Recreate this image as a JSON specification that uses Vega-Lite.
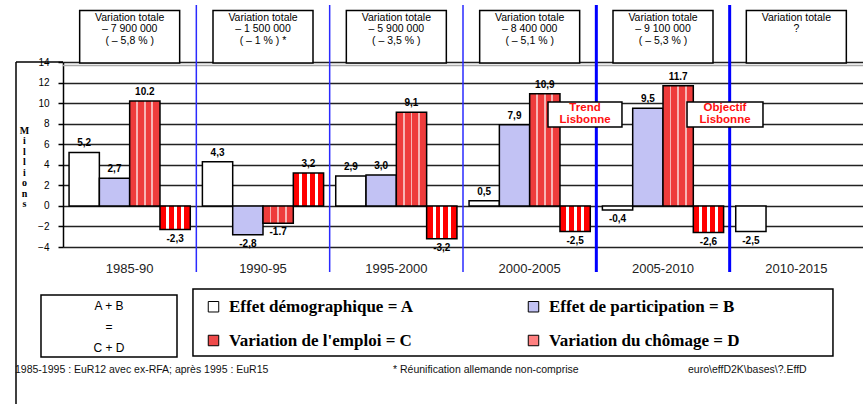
{
  "$schema": "https://vega.github.io/schema/vega-lite/v6.json",
  "width": 800,
  "height": 185,
  "autosize": {"type": "none"},
  "padding": {"left": 63, "top": 62, "right": 0, "bottom": 157},
  "background": "white",
  "config": {"view": {"stroke": null}, "font": "Liberation Sans"},
  "datasets": {
    "bars": [
      {"period": "1985-90", "comp": "A", "value": 5.2, "label": "5,2"},
      {"period": "1985-90", "comp": "B", "value": 2.7, "label": "2,7"},
      {"period": "1985-90", "comp": "C", "value": 10.2, "label": "10.2"},
      {"period": "1985-90", "comp": "D", "value": -2.3, "label": "-2,3"},
      {"period": "1990-95", "comp": "A", "value": 4.3, "label": "4,3"},
      {"period": "1990-95", "comp": "B", "value": -2.8, "label": "-2,8"},
      {"period": "1990-95", "comp": "C", "value": -1.7, "label": "-1.7"},
      {"period": "1990-95", "comp": "D", "value": 3.2, "label": "3,2"},
      {"period": "1995-2000", "comp": "A", "value": 2.9, "label": "2,9"},
      {"period": "1995-2000", "comp": "B", "value": 3.0, "label": "3,0"},
      {"period": "1995-2000", "comp": "C", "value": 9.1, "label": "9,1"},
      {"period": "1995-2000", "comp": "D", "value": -3.2, "label": "-3,2"},
      {"period": "2000-2005", "comp": "A", "value": 0.5, "label": "0,5"},
      {"period": "2000-2005", "comp": "B", "value": 7.9, "label": "7,9"},
      {"period": "2000-2005", "comp": "C", "value": 10.9, "label": "10,9"},
      {"period": "2000-2005", "comp": "D", "value": -2.5, "label": "-2,5"},
      {"period": "2005-2010", "comp": "A", "value": -0.4, "label": "-0,4"},
      {"period": "2005-2010", "comp": "B", "value": 9.5, "label": "9,5"},
      {"period": "2005-2010", "comp": "C", "value": 11.7, "label": "11.7"},
      {"period": "2005-2010", "comp": "D", "value": -2.6, "label": "-2,6"},
      {"period": "2010-2015", "comp": "A", "value": -2.5, "label": "-2,5"}
    ],
    "totals": [
      {"period": "1985-90", "total": "Variation totale\n– 7 900 000\n( – 5,8 % )"},
      {"period": "1990-95", "total": "Variation totale\n– 1 500 000\n( – 1 % ) *"},
      {"period": "1995-2000", "total": "Variation totale\n– 5 900 000\n( – 3,5 % )"},
      {"period": "2000-2005", "total": "Variation totale\n– 8 400 000\n( – 5,1 % )"},
      {"period": "2005-2010", "total": "Variation totale\n– 9 100 000\n( – 5,3 % )"},
      {"period": "2010-2015", "total": "Variation totale\n?"}
    ]
  },
  "layer": [
    {
      "layer": [
        {
          "data": {"name": "bars"},
          "mark": {"type": "bar", "stroke": "black", "strokeWidth": 1.5},
          "encoding": {
            "x": {
              "field": "period", "type": "nominal",
              "scale": {"domain": ["1985-90", "1990-95", "1995-2000", "2000-2005", "2005-2010", "2010-2015"], "paddingInner": 0, "paddingOuter": 0},
              "axis": {"orient": "bottom", "domain": false, "ticks": false, "labelAngle": 0, "labelFont": "Liberation Sans", "labelFontSize": 13, "labelColor": "#222222", "labelPadding": 15},
              "title": null
            },
            "xOffset": {"field": "comp", "type": "nominal", "scale": {"domain": ["A", "B", "C", "D"], "paddingInner": 0, "paddingOuter": 0.2}},
            "y": {
              "field": "value", "type": "quantitative",
              "scale": {"domain": [-4, 14], "nice": false, "zero": false},
              "axis": {
                "values": [-4, -2, 0, 2, 4, 6, 8, 10, 12, 14],
                "tickCount": 10,
                "labelOverlap": false, "labelFlush": false,
                "grid": true, "gridColor": "#222222", "gridWidth": 1.5,
                "domainColor": "black", "domainWidth": 1.5,
                "tickColor": "black", "tickSize": 5, "tickWidth": 1.5,
                "labelFont": "Liberation Sans", "labelFontSize": 10, "labelColor": "black", "labelPadding": 9,
                "titleAngle": 0, "titleX": -39, "titleY": 63, "titleAlign": "center", "titleBaseline": "top",
                "titleFont": "Liberation Serif", "titleFontWeight": "bold", "titleFontSize": 10, "titleLineHeight": 10.5
              },
              "title": ["M", "i", "l", "l", "i", "o", "n", "s"]
            },
            "fill": {
              "condition": [
                {"test": "datum.comp == 'C'", "value": {"gradient": "linear", "stops": [
                    {"offset": 0, "color": "#ee3c3c"}, {"offset": 0.22, "color": "#ee3c3c"},
                    {"offset": 0.22, "color": "#f7b4b4"}, {"offset": 0.28, "color": "#f7b4b4"},
                    {"offset": 0.28, "color": "#ee3c3c"}, {"offset": 0.47, "color": "#ee3c3c"},
                    {"offset": 0.47, "color": "#f7b4b4"}, {"offset": 0.53, "color": "#f7b4b4"},
                    {"offset": 0.53, "color": "#ee3c3c"}, {"offset": 0.72, "color": "#ee3c3c"},
                    {"offset": 0.72, "color": "#f7b4b4"}, {"offset": 0.78, "color": "#f7b4b4"},
                    {"offset": 0.78, "color": "#ee3c3c"}, {"offset": 1, "color": "#ee3c3c"}
                  ]}},
                {"test": "datum.comp == 'D'", "value": {"gradient": "linear", "stops": [
                    {"offset": 0, "color": "#ff0000"}, {"offset": 0.2, "color": "#ff0000"},
                    {"offset": 0.2, "color": "white"}, {"offset": 0.3, "color": "white"},
                    {"offset": 0.3, "color": "#ff0000"}, {"offset": 0.45, "color": "#ff0000"},
                    {"offset": 0.45, "color": "white"}, {"offset": 0.55, "color": "white"},
                    {"offset": 0.55, "color": "#ff0000"}, {"offset": 0.7, "color": "#ff0000"},
                    {"offset": 0.7, "color": "white"}, {"offset": 0.8, "color": "white"},
                    {"offset": 0.8, "color": "#ff0000"}, {"offset": 1, "color": "#ff0000"}
                  ]}}
              ],
              "field": "comp", "type": "nominal",
              "scale": {"domain": ["A", "B", "C", "D"], "range": ["white", "#c2c2f4", "#ee4a4a", "#ff8080"]},
              "legend": {
                "orient": "none", "legendX": 142, "legendY": 236, "columns": 2, "direction": "horizontal", "title": null, "padding": 0,
                "symbolType": "square", "symbolSize": 110, "symbolStrokeColor": "black", "symbolStrokeWidth": 1,
                "labelFont": "Liberation Serif", "labelFontWeight": "bold", "labelFontSize": 17, "labelColor": "black",
                "labelOffset": 7, "columnPadding": 111, "rowPadding": 16, "labelLimit": 400,
                "labelExpr": "datum.label == 'A' ? 'Effet démographique = A' : datum.label == 'B' ? 'Effet de participation = B' : datum.label == 'C' ? \"Variation de l'emploi = C\" : 'Variation du chômage = D'"
              }
            }
          }
        },
        {
          "data": {"values": [{}]},
          "mark": {"type": "rule", "color": "#aaaaaa", "strokeWidth": 1.5},
          "encoding": {"y": {"datum": 13.65, "type": "quantitative"}}
        },
        {
          "data": {"name": "bars"},
          "transform": [{"filter": "datum.value >= 0"}],
          "mark": {"type": "text", "baseline": "bottom", "dy": -4, "fontSize": 10, "fontWeight": "bold", "font": "Liberation Sans", "color": "black"},
          "encoding": {
            "x": {"field": "period", "type": "nominal"},
            "xOffset": {"field": "comp", "type": "nominal"},
            "y": {"field": "value", "type": "quantitative"},
            "text": {"field": "label"}
          }
        },
        {
          "data": {"name": "bars"},
          "transform": [{"filter": "datum.value < 0"}],
          "mark": {"type": "text", "baseline": "top", "dy": 4, "fontSize": 10, "fontWeight": "bold", "font": "Liberation Sans", "color": "black"},
          "encoding": {
            "x": {"field": "period", "type": "nominal"},
            "xOffset": {"field": "comp", "type": "nominal"},
            "y": {"field": "value", "type": "quantitative"},
            "text": {"field": "label"}
          }
        },
        {
          "data": {"name": "totals"},
          "mark": {"type": "bar", "fill": "white", "stroke": "black", "strokeWidth": 1.5, "width": {"band": 0.75}},
          "encoding": {
            "x": {"field": "period", "type": "nominal"},
            "y": {"datum": 19.0},
            "y2": {"datum": 13.9}
          }
        },
        {
          "data": {"name": "totals"},
          "mark": {"type": "text", "lineBreak": "\n", "baseline": "top", "fontSize": 10.5, "lineHeight": 11.5, "font": "Liberation Sans", "color": "black"},
          "encoding": {
            "x": {"field": "period", "type": "nominal"},
            "y": {"datum": 18.8},
            "text": {"field": "total"}
          }
        },
        {
          "data": {"name": "totals"},
          "transform": [{"filter": "indexof(['1990-95', '1995-2000', '2000-2005'], datum.period) >= 0"}],
          "mark": {"type": "rule", "color": "#2a2aff", "strokeWidth": 1.5},
          "encoding": {
            "x": {"field": "period", "type": "nominal", "bandPosition": 0},
            "y": {"datum": 19.55},
            "y2": {"datum": -6.43}
          }
        },
        {
          "data": {"name": "totals"},
          "transform": [{"filter": "indexof(['2005-2010', '2010-2015'], datum.period) >= 0"}],
          "mark": {"type": "rule", "color": "#0000ff", "strokeWidth": 3},
          "encoding": {
            "x": {"field": "period", "type": "nominal", "bandPosition": 0},
            "y": {"datum": 19.55},
            "y2": {"datum": -6.43}
          }
        }
      ]
    },
    {
      "data": {"values": [{}]},
      "layer": [
        {
          "mark": {"type": "rule", "color": "black", "strokeWidth": 1.5},
          "encoding": {
            "x": {"datum": 1.854, "type": "quantitative", "scale": {"domain": [0, 100], "range": [-63, 800]}, "axis": null},
            "y": {"datum": 15.35, "type": "quantitative", "scale": {"domain": [0, 100], "range": [-62, 342]}, "axis": null},
            "y2": {"datum": 100}
          }
        },
        {
          "mark": {"type": "rule", "color": "black", "strokeWidth": 1.5},
          "encoding": {"x": {"datum": 1.854}, "x2": {"datum": 7.3}, "y": {"datum": 15.35}}
        },
        {
          "mark": {"type": "rect", "fill": "white", "stroke": "black", "strokeWidth": 1.5},
          "encoding": {"x": {"datum": 4.75}, "x2": {"datum": 20.51}, "y": {"datum": 73.02}, "y2": {"datum": 88.37}}
        },
        {
          "mark": {"type": "text", "lineBreak": "\n", "baseline": "top", "align": "center", "fontSize": 12, "lineHeight": 21, "font": "Liberation Sans", "color": "black"},
          "encoding": {"x": {"datum": 12.63}, "y": {"datum": 74.45}, "text": {"value": "A + B\n=\nC + D"}}
        },
        {
          "mark": {"type": "rect", "fill": "white", "stroke": "black", "strokeWidth": 1.5},
          "encoding": {"x": {"datum": 22.36}, "x2": {"datum": 96.52}, "y": {"datum": 71.53}, "y2": {"datum": 88.12}}
        },
        {
          "mark": {"type": "text", "baseline": "middle", "align": "left", "fontSize": 10.5, "font": "Liberation Sans", "color": "#111111"},
          "encoding": {"x": {"datum": 1.74}, "y": {"datum": 91.58}, "text": {"value": "1985-1995 : EuR12 avec ex-RFA; après 1995 : EuR15"}}
        },
        {
          "mark": {"type": "text", "baseline": "middle", "align": "left", "fontSize": 10.5, "font": "Liberation Sans", "color": "#111111"},
          "encoding": {"x": {"datum": 45.54}, "y": {"datum": 91.58}, "text": {"value": "* Réunification allemande non-comprise"}}
        },
        {
          "mark": {"type": "text", "baseline": "middle", "align": "left", "fontSize": 10.5, "font": "Liberation Sans", "color": "#111111"},
          "encoding": {"x": {"datum": 79.72}, "y": {"datum": 91.58}, "text": {"value": "euro\\effD2K\\bases\\?.EffD"}}
        },
        {
          "mark": {"type": "rect", "fill": "white", "stroke": "black", "strokeWidth": 1.5},
          "encoding": {"x": {"datum": 63.5}, "x2": {"datum": 72.07}, "y": {"datum": 25.25}, "y2": {"datum": 31.44}}
        },
        {
          "mark": {"type": "text", "lineBreak": "\n", "baseline": "middle", "align": "center", "fontSize": 11.5, "fontWeight": "bold", "lineHeight": 12, "font": "Liberation Sans", "color": "#ff1010"},
          "encoding": {"x": {"datum": 67.79}, "y": {"datum": 26.73}, "text": {"value": "Trend\nLisbonne"}}
        },
        {
          "mark": {"type": "rect", "fill": "white", "stroke": "black", "strokeWidth": 1.5},
          "encoding": {"x": {"datum": 79.61}, "x2": {"datum": 88.41}, "y": {"datum": 25.25}, "y2": {"datum": 31.44}}
        },
        {
          "mark": {"type": "text", "lineBreak": "\n", "baseline": "middle", "align": "center", "fontSize": 11.5, "fontWeight": "bold", "lineHeight": 12, "font": "Liberation Sans", "color": "#ff1010"},
          "encoding": {"x": {"datum": 84.01}, "y": {"datum": 26.73}, "text": {"value": "Objectif\nLisbonne"}}
        }
      ]
    }
  ],
  "resolve": {"scale": {"x": "independent", "y": "independent"}}
}
